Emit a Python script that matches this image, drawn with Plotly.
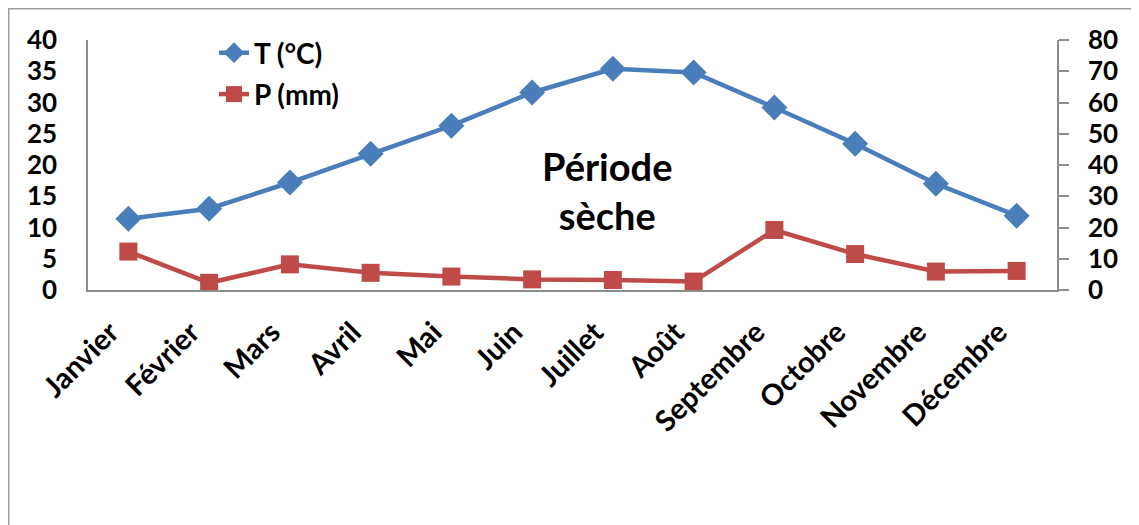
import plotly.graph_objects as go

mois = ["Janvier", "Février", "Mars", "Avril", "Mai", "Juin", "Juillet",
        "Août", "Septembre", "Octobre", "Novembre", "Décembre"]
temperature = [11.4, 13.0, 17.2, 21.8, 26.3, 31.6, 35.4, 34.8, 29.2, 23.4, 17.0, 11.9]
precipitation = [12.3, 2.3, 8.2, 5.5, 4.3, 3.4, 3.2, 2.7, 19.2, 11.5, 5.9, 6.1]
left_ticks = [0, 5, 10, 15, 20, 25, 30, 35, 40]
right_ticks = [0, 10, 20, 30, 40, 50, 60, 70, 80]

FONT = "Lato"
BLUE = "#4A7EBB"
RED = "#BE4B48"
AXIS = "#8C8C8C"

fig = go.Figure()
fig.add_trace(go.Scatter(
    x=list(range(len(mois))), y=temperature, name="T (°C)", mode="lines+markers",
    line=dict(color=BLUE, width=4.5),
    marker=dict(symbol="diamond", size=20, color=BLUE),
    legendgroup="t", yaxis="y"))
fig.add_trace(go.Scatter(
    x=list(range(len(mois))), y=precipitation, name="P (mm)", mode="lines+markers",
    line=dict(color=RED, width=4.5),
    marker=dict(symbol="square", size=18, color=RED),
    legendgroup="p", yaxis="y2"))

# page body has an 8px margin: figure pixel = screen pixel - 8
OFF = 8
W, H = 1139 - OFF, 525 - OFF
L, T = 88 - OFF, 40 - OFF
plot_right, plot_bottom = 1057 - OFF, 290 - OFF
R, B = W - plot_right, H - plot_bottom
pw, ph = plot_right - L, plot_bottom - T

def px_x(sx):
    return (sx - OFF - L) / pw

def px_y(sy):
    return (plot_bottom - (sy - OFF)) / ph

fig.update_layout(
    width=W, height=H,
    margin=dict(l=L, r=R, t=T, b=B, autoexpand=False),
    paper_bgcolor="white", plot_bgcolor="white",
    font=dict(family=FONT, size=24, color="black"),
    showlegend=True,
    legend=dict(x=px_x(214), y=px_y(28), xanchor="left", yanchor="top",
                bgcolor="rgba(0,0,0,0)", font=dict(family=FONT, size=28, color="black", weight="bold"),
                tracegroupgap=2, itemsizing="trace"),
    xaxis=dict(
        range=[-0.5, len(mois) - 0.5], tickmode="array",
        tickvals=list(range(len(mois))), ticktext=mois, tickangle=-45,
        showgrid=False, zeroline=False, showline=True, linecolor=AXIS, linewidth=1.5,
        ticks="", ticklabelshift=-18, ticklabelstandoff=12,
        tickfont=dict(family=FONT, size=29, color="black", weight="bold")),
    yaxis=dict(
        range=[0, 40], tickmode="array", tickvals=left_ticks,
        showgrid=False, zeroline=False, showline=True, linecolor=AXIS, linewidth=1.5,
        ticks="", ticklabelstandoff=24,
        tickfont=dict(family=FONT, size=26, color="black", weight="bold")),
    yaxis2=dict(
        range=[0, 80], tickmode="array", tickvals=right_ticks, overlaying="y", side="right",
        showgrid=False, zeroline=False, showline=True, linecolor=AXIS, linewidth=1.5,
        ticks="outside", ticklen=10, tickcolor=AXIS, tickwidth=1.5, ticklabelstandoff=14,
        tickfont=dict(family=FONT, size=26, color="black", weight="bold")),
    annotations=[dict(
        x=px_x(607), y=px_y(190), xref="paper", yref="paper",
        text="Période<br>sèche", showarrow=False, align="center",
        font=dict(family=FONT, size=38, color="black", weight="bold"))],
    shapes=[dict(type="rect", xref="paper", yref="paper",
                 x0=px_x(OFF + 0.75), x1=px_x(1138), y0=px_y(560), y1=px_y(OFF + 0.75),
                 line=dict(color="#A0A0A0", width=1.5), fillcolor="rgba(0,0,0,0)", layer="below")],
)

fig.write_html("out.html")
